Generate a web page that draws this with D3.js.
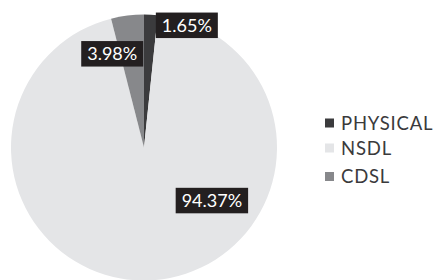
<!DOCTYPE html>
<html>
<head>
<meta charset="utf-8">
<script src="https://d3js.org/d3.v7.min.js"></script>
<style>
  body { margin: 0; background: #fff; }
  text { font-family: Lato, "Open Sans", sans-serif; }
</style>
</head>
<body>
<div id="chart"></div>
<script>
// data
var categories = ["PHYSICAL", "NSDL", "CDSL"];
var shares = [1.65, 94.37, 3.98];
var labels = ["1.65%", "94.37%", "3.98%"];

var width = 434, height = 280;
var cx = 144, cy = 147.5, radius = 133;

var color = d3.scaleOrdinal()
  .domain(categories)
  .range(["#3b3b3d", "#e4e5e7", "#87888b"]);

var svg = d3.select("#chart").append("svg")
  .attr("width", width)
  .attr("height", height);

var g = svg.append("g").attr("transform", "translate(" + cx + "," + cy + ")");

var pie = d3.pie().sort(null).value(function(d) { return d.value; });
var data_ready = pie(categories.map(function(c, i) {
  return { key: c, value: shares[i], label: labels[i] };
}));

var arc = d3.arc().innerRadius(0).outerRadius(radius);

g.selectAll("path.slice")
  .data(data_ready)
  .enter().append("path")
  .attr("class", "slice")
  .attr("d", arc)
  .attr("fill", function(d) { return color(d.data.key); });

// label placement: radius factor along mid angle, then shift of the box
var labelPos = {
  PHYSICAL: { r: 0.92, dx: 5.5, anchor: "start" },
  CDSL: { r: 0.71, dx: 11, anchor: "end" },
  NSDL: { r: 0.4, dx: 64, anchor: "middle" }
};

var fontSize = 18, padX = 6, boxH = 25.5;

var lbl = g.selectAll("g.lbl")
  .data(data_ready)
  .enter().append("g")
  .attr("class", "lbl")
  .attr("transform", function(d) {
    var p = labelPos[d.data.key];
    var mid = (d.startAngle + d.endAngle) / 2;
    var x = Math.sin(mid) * radius * p.r + p.dx;
    var y = -Math.cos(mid) * radius * p.r;
    return "translate(" + x + "," + y + ")";
  });

lbl.each(function(d) {
  var sel = d3.select(this);
  var p = labelPos[d.data.key];
  var t = sel.append("text")
    .attr("fill", "#fff")
    .attr("font-size", fontSize)
    .attr("dy", "0.36em")
    .text(d.data.label);
  var w = t.node().getComputedTextLength();
  var bw = w + padX * 2;
  var x0 = p.anchor === "start" ? 0 : p.anchor === "end" ? -bw : -bw / 2;
  t.attr("x", x0 + padX);
  sel.insert("rect", "text")
    .attr("x", x0)
    .attr("y", -boxH / 2)
    .attr("width", bw)
    .attr("height", boxH)
    .attr("fill", "#231f20");
});

// legend
var legendY = [123, 148, 176.5];
var legend = svg.append("g").attr("transform", "translate(325,0)");
var item = legend.selectAll("g")
  .data(categories)
  .enter().append("g")
  .attr("transform", function(d, i) { return "translate(0," + legendY[i] + ")"; });
item.append("rect")
  .attr("x", 0).attr("y", -4.5)
  .attr("width", 9).attr("height", 9)
  .attr("fill", function(d) { return color(d); });
item.append("text")
  .attr("x", 16)
  .attr("dy", "0.36em")
  .attr("font-size", 18.5)
  .attr("letter-spacing", 0.8)
  .attr("fill", "#3a3a3c")
  .text(function(d) { return d; });
</script>
</body>
</html>
